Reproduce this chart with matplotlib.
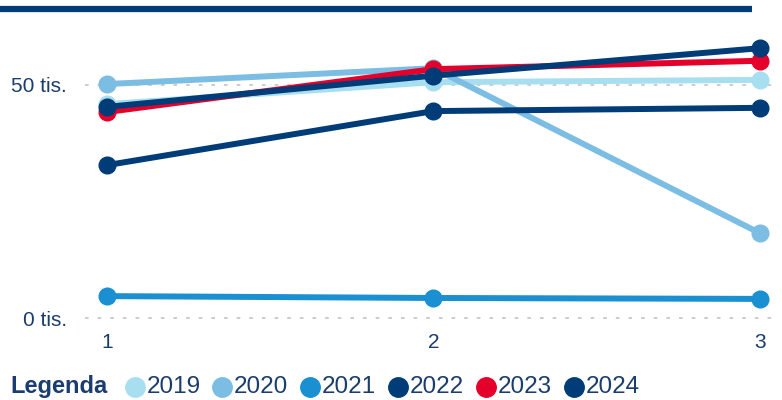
import matplotlib
matplotlib.use("Agg")
import matplotlib.pyplot as plt
from matplotlib.lines import Line2D

plt.rcParams['font.family'] = ['Liberation Sans', 'DejaVu Sans']

# data (thousands)
x = [1, 2, 3]
years = ["2019", "2020", "2021", "2022", "2023", "2024"]
v2019 = [45.9, 50.6, 51.1]
v2020 = [50.2, 53.6, 18.2]
v2021 = [4.7, 4.3, 4.1]
v2022 = [32.8, 44.4, 45.1]
v2023 = [44.2, 53.4, 55.2]
v2024 = [45.3, 52.0, 57.9]
series = [v2019, v2020, v2021, v2022, v2023, v2024]
colors = ["#a8dff0", "#7cbde3", "#1a8fd1", "#003c78", "#e4002b", "#003c78"]
yticks = [0, 50]
ytick_labels = ["0 tis.", "50 tis."]

text_col = "#1a3c6e"

fig = plt.figure(figsize=(7.82, 4.0), dpi=100)
ax = fig.add_axes([85 / 782, 1 - 325 / 400, 690 / 782, 295 / 400])

for vals, c in zip(series, colors):
    ax.plot(x, vals, color=c, lw=4.3, marker="o", ms=12, solid_capstyle="round", zorder=3)

ax.set_xlim(0.933, 3.046)
ax.set_ylim(-1.5, 61.8)
ax.set_yticks(yticks)
ax.set_yticklabels(ytick_labels)
ax.set_xticks(x)
ax.set_xticklabels([str(i) for i in x])
ax.tick_params(length=0, labelsize=15, colors=text_col, pad=6)
ax.tick_params(axis="y", pad=13)
for s in ax.spines.values():
    s.set_visible(False)
for yv in yticks:
    ax.axhline(yv, color="#c8c8c8", lw=1.3, ls=(0, (2, 5)), zorder=1)

# top bar
fig.add_artist(Line2D([0, 752 / 782], [1 - 9 / 400] * 2, color="#003c78", lw=4.5,
                      transform=fig.transFigure, solid_capstyle="butt"))

# legend
ly = 1 - 387 / 400
fig.text(10 / 782, ly, "Legenda", fontsize=17, fontweight="bold", color=text_col, va="center")
cx = [135, 222, 310, 398, 486, 574]
for px, c, lab in zip(cx, colors, years):
    fig.add_artist(Line2D([px / 782], [ly], marker="o", ms=14, color=c, ls="none",
                          transform=fig.transFigure))
    fig.text((px + 12) / 782, ly, lab, fontsize=17.5, color=text_col, va="center")

fig.savefig("out.png", dpi=100)
